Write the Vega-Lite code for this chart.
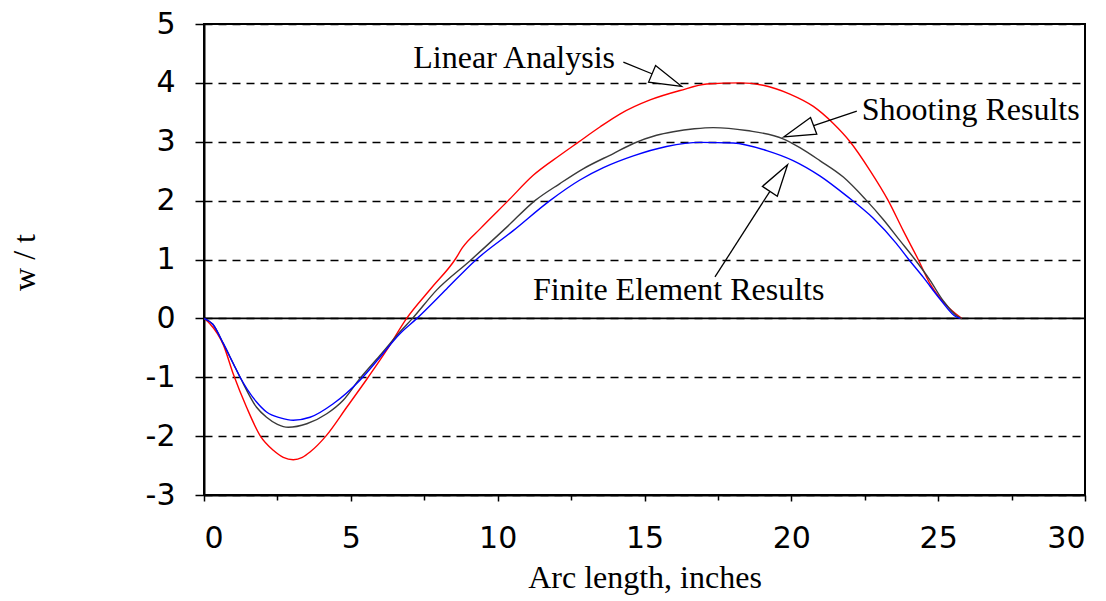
{
  "$schema": "https://vega.github.io/schema/vega-lite/v6.json",
  "width": 881,
  "height": 471,
  "autosize": "none",
  "padding": {"left": 204, "top": 24, "right": 21, "bottom": 106},
  "background": "white",
  "config": {
    "view": {"stroke": "black", "strokeWidth": 2},
    "axis": {
      "labelFont": "DejaVu Sans", "labelFontSize": 30, "labelColor": "black",
      "titleFont": "Liberation Serif", "titleFontSize": 32, "titleFontWeight": "normal", "titleColor": "black",
      "domainColor": "black", "domainWidth": 2, "tickColor": "black", "tickWidth": 1.5
    }
  },
  "datasets": {
    "curves": [
      {"series": "Linear Analysis", "s": 0, "w": 0},
      {"series": "Linear Analysis", "s": 0.2, "w": -0.09},
      {"series": "Linear Analysis", "s": 0.66, "w": -0.45},
      {"series": "Linear Analysis", "s": 1.0, "w": -0.95},
      {"series": "Linear Analysis", "s": 1.45, "w": -1.51},
      {"series": "Linear Analysis", "s": 1.91, "w": -1.99},
      {"series": "Linear Analysis", "s": 2.36, "w": -2.24},
      {"series": "Linear Analysis", "s": 2.7, "w": -2.36},
      {"series": "Linear Analysis", "s": 3.04, "w": -2.4},
      {"series": "Linear Analysis", "s": 3.35, "w": -2.36},
      {"series": "Linear Analysis", "s": 3.61, "w": -2.27},
      {"series": "Linear Analysis", "s": 4.15, "w": -2.0},
      {"series": "Linear Analysis", "s": 4.86, "w": -1.51},
      {"series": "Linear Analysis", "s": 5.59, "w": -1.0},
      {"series": "Linear Analysis", "s": 6.22, "w": -0.54},
      {"series": "Linear Analysis", "s": 6.9, "w": 0},
      {"series": "Linear Analysis", "s": 7.75, "w": 0.52},
      {"series": "Linear Analysis", "s": 8.55, "w": 1.0},
      {"series": "Linear Analysis", "s": 8.8, "w": 1.2},
      {"series": "Linear Analysis", "s": 9.4, "w": 1.52},
      {"series": "Linear Analysis", "s": 10.36, "w": 2.0},
      {"series": "Linear Analysis", "s": 11.21, "w": 2.43},
      {"series": "Linear Analysis", "s": 12.12, "w": 2.77},
      {"series": "Linear Analysis", "s": 12.74, "w": 2.99},
      {"series": "Linear Analysis", "s": 13.48, "w": 3.25},
      {"series": "Linear Analysis", "s": 14.16, "w": 3.47},
      {"series": "Linear Analysis", "s": 15.19, "w": 3.71},
      {"series": "Linear Analysis", "s": 16.21, "w": 3.87},
      {"series": "Linear Analysis", "s": 17.12, "w": 3.98},
      {"series": "Linear Analysis", "s": 18.25, "w": 4.0},
      {"series": "Linear Analysis", "s": 19.04, "w": 3.96},
      {"series": "Linear Analysis", "s": 19.95, "w": 3.81},
      {"series": "Linear Analysis", "s": 20.75, "w": 3.6},
      {"series": "Linear Analysis", "s": 21.43, "w": 3.31},
      {"series": "Linear Analysis", "s": 22.0, "w": 3.0},
      {"series": "Linear Analysis", "s": 22.68, "w": 2.51},
      {"series": "Linear Analysis", "s": 23.3, "w": 2.0},
      {"series": "Linear Analysis", "s": 23.81, "w": 1.49},
      {"series": "Linear Analysis", "s": 24.32, "w": 1.0},
      {"series": "Linear Analysis", "s": 24.72, "w": 0.59},
      {"series": "Linear Analysis", "s": 25.17, "w": 0.28},
      {"series": "Linear Analysis", "s": 25.8, "w": 0},
      {"series": "Shooting Results", "s": 0, "w": 0},
      {"series": "Shooting Results", "s": 0.3, "w": -0.1},
      {"series": "Shooting Results", "s": 0.66, "w": -0.43},
      {"series": "Shooting Results", "s": 1.0, "w": -0.77},
      {"series": "Shooting Results", "s": 1.23, "w": -1.0},
      {"series": "Shooting Results", "s": 1.79, "w": -1.51},
      {"series": "Shooting Results", "s": 2.13, "w": -1.68},
      {"series": "Shooting Results", "s": 2.5, "w": -1.8},
      {"series": "Shooting Results", "s": 2.87, "w": -1.85},
      {"series": "Shooting Results", "s": 3.5, "w": -1.79},
      {"series": "Shooting Results", "s": 4.18, "w": -1.62},
      {"series": "Shooting Results", "s": 4.74, "w": -1.39},
      {"series": "Shooting Results", "s": 5.31, "w": -1.02},
      {"series": "Shooting Results", "s": 5.99, "w": -0.63},
      {"series": "Shooting Results", "s": 6.67, "w": -0.23},
      {"series": "Shooting Results", "s": 7.1, "w": 0},
      {"series": "Shooting Results", "s": 7.92, "w": 0.48},
      {"series": "Shooting Results", "s": 9.06, "w": 0.98},
      {"series": "Shooting Results", "s": 10.31, "w": 1.55},
      {"series": "Shooting Results", "s": 11.27, "w": 2.0},
      {"series": "Shooting Results", "s": 12.12, "w": 2.29},
      {"series": "Shooting Results", "s": 12.91, "w": 2.54},
      {"series": "Shooting Results", "s": 13.94, "w": 2.8},
      {"series": "Shooting Results", "s": 14.62, "w": 2.97},
      {"series": "Shooting Results", "s": 15.41, "w": 3.11},
      {"series": "Shooting Results", "s": 15.98, "w": 3.17},
      {"series": "Shooting Results", "s": 16.7, "w": 3.22},
      {"series": "Shooting Results", "s": 17.34, "w": 3.24},
      {"series": "Shooting Results", "s": 18.48, "w": 3.19},
      {"series": "Shooting Results", "s": 19.72, "w": 3.05},
      {"series": "Shooting Results", "s": 20.29, "w": 2.9},
      {"series": "Shooting Results", "s": 20.97, "w": 2.68},
      {"series": "Shooting Results", "s": 21.77, "w": 2.4},
      {"series": "Shooting Results", "s": 22.51, "w": 2.03},
      {"series": "Shooting Results", "s": 23.13, "w": 1.68},
      {"series": "Shooting Results", "s": 23.7, "w": 1.32},
      {"series": "Shooting Results", "s": 24.21, "w": 1.0},
      {"series": "Shooting Results", "s": 24.72, "w": 0.65},
      {"series": "Shooting Results", "s": 25.17, "w": 0.3},
      {"series": "Shooting Results", "s": 25.7, "w": 0.02},
      {"series": "Shooting Results", "s": 25.8, "w": 0},
      {"series": "Finite Element Results", "s": 0, "w": 0},
      {"series": "Finite Element Results", "s": 0.3, "w": -0.1},
      {"series": "Finite Element Results", "s": 0.66, "w": -0.43},
      {"series": "Finite Element Results", "s": 1.0, "w": -0.77},
      {"series": "Finite Element Results", "s": 1.23, "w": -1.0},
      {"series": "Finite Element Results", "s": 1.79, "w": -1.42},
      {"series": "Finite Element Results", "s": 2.13, "w": -1.59},
      {"series": "Finite Element Results", "s": 2.6, "w": -1.69},
      {"series": "Finite Element Results", "s": 3.04, "w": -1.73},
      {"series": "Finite Element Results", "s": 3.61, "w": -1.68},
      {"series": "Finite Element Results", "s": 4.4, "w": -1.45},
      {"series": "Finite Element Results", "s": 5.31, "w": -1.05},
      {"series": "Finite Element Results", "s": 5.99, "w": -0.66},
      {"series": "Finite Element Results", "s": 6.67, "w": -0.26},
      {"series": "Finite Element Results", "s": 7.25, "w": 0},
      {"series": "Finite Element Results", "s": 8.26, "w": 0.5},
      {"series": "Finite Element Results", "s": 9.23, "w": 0.98},
      {"series": "Finite Element Results", "s": 10.53, "w": 1.49},
      {"series": "Finite Element Results", "s": 11.78, "w": 2.0},
      {"series": "Finite Element Results", "s": 12.8, "w": 2.35},
      {"series": "Finite Element Results", "s": 13.6, "w": 2.56},
      {"series": "Finite Element Results", "s": 14.62, "w": 2.76},
      {"series": "Finite Element Results", "s": 15.75, "w": 2.92},
      {"series": "Finite Element Results", "s": 16.89, "w": 2.99},
      {"series": "Finite Element Results", "s": 18.02, "w": 2.98},
      {"series": "Finite Element Results", "s": 19.16, "w": 2.85},
      {"series": "Finite Element Results", "s": 20.06, "w": 2.68},
      {"series": "Finite Element Results", "s": 20.97, "w": 2.42},
      {"series": "Finite Element Results", "s": 21.88, "w": 2.08},
      {"series": "Finite Element Results", "s": 22.79, "w": 1.7},
      {"series": "Finite Element Results", "s": 23.58, "w": 1.27},
      {"series": "Finite Element Results", "s": 24.0, "w": 1.0},
      {"series": "Finite Element Results", "s": 24.49, "w": 0.7},
      {"series": "Finite Element Results", "s": 25.06, "w": 0.33},
      {"series": "Finite Element Results", "s": 25.63, "w": 0.02},
      {"series": "Finite Element Results", "s": 25.75, "w": 0}
    ],
    "labels": [
      {"label": "Linear Analysis", "s": 7.127, "w": 4.245},
      {"label": "Shooting Results", "s": 22.4, "w": 3.363},
      {"label": "Finite Element Results", "s": 11.2, "w": 0.309}
    ],
    "leaders": [
      {"label": "Linear Analysis", "s": 14.28, "w": 4.352, "s2": 15.25, "w2": 4.155},
      {"label": "Shooting Results", "s": 22.23, "w": 3.52, "s2": 20.76, "w2": 3.273},
      {"label": "Finite Element Results", "s": 17.4, "w": 0.704, "s2": 19.27, "w2": 2.158}
    ]
  },
  "layer": [
    {
      "data": {"values": [{"w": 0}]},
      "mark": {"type": "rule", "color": "black", "strokeWidth": 1.6},
      "encoding": {
        "y": {
          "field": "w", "type": "quantitative",
          "scale": {"domain": [-3, 5], "nice": false, "zero": false},
          "axis": {
            "orient": "left",
            "values": [-3, -2.5, -2, -1.5, -1, -0.5, 0, 0.5, 1, 1.5, 2, 2.5, 3, 3.5, 4, 4.5, 5],
            "labelExpr": "datum.value % 1 ? '' : '' + datum.value",
            "grid": true, "gridColor": "black", "gridDash": [8, 6], "gridWidth": 1.3,
            "gridOpacity": {"condition": {"test": "datum.value % 1", "value": 0}, "value": 1},
            "tickSize": {"condition": {"test": "datum.value % 1", "value": 6}, "value": 9},
            "labelPadding": 20,
            "title": "w / t",
            "titleAngle": -90, "titleAlign": "center", "titleBaseline": "alphabetic",
            "titleX": -170, "titleY": 238
          }
        }
      }
    },
    {
      "data": {"name": "curves"},
      "mark": {"type": "line", "strokeWidth": 1.4, "clip": true, "interpolate": "monotone"},
      "encoding": {
        "x": {
          "field": "s", "type": "quantitative",
          "scale": {"domain": [0, 30], "nice": false, "zero": false},
          "axis": {
            "orient": "bottom",
            "values": [0, 2.5, 5, 7.5, 10, 12.5, 15, 17.5, 20, 22.5, 25, 27.5, 30],
            "labelExpr": "datum.value % 1 ? '' : '' + datum.value",
            "grid": false,
            "tickSize": {"condition": {"test": "datum.value % 1", "value": 5}, "value": 6},
            "labelPadding": 22,
            "labelBaseline": "top",
            "title": "Arc length, inches",
            "titleBaseline": "alphabetic", "titleY": 92
          }
        },
        "y": {"field": "w", "type": "quantitative"},
        "color": {
          "field": "series", "type": "nominal",
          "scale": {"domain": ["Linear Analysis", "Shooting Results", "Finite Element Results"], "range": ["#ff0000", "#3a3a3a", "#0000ff"]},
          "legend": null
        },
        "order": {"field": "s", "type": "quantitative"}
      }
    },
    {
      "data": {"name": "leaders"},
      "mark": {"type": "rule", "color": "black", "strokeWidth": 1.3},
      "encoding": {
        "x": {"field": "s", "type": "quantitative"},
        "y": {"field": "w", "type": "quantitative"},
        "x2": {"field": "s2"},
        "y2": {"field": "w2"}
      }
    },
    {
      "data": {"values": [{"s": 15.76, "w": 4.047}]},
      "mark": {"type": "point", "shape": "M0,-1L0.56,1L-0.56,1Z", "size": 1024, "angle": 113, "filled": true, "fill": "white", "stroke": "black", "strokeWidth": 1.3, "opacity": 1},
      "encoding": {"x": {"field": "s", "type": "quantitative"}, "y": {"field": "w", "type": "quantitative"}}
    },
    {
      "data": {"values": [{"s": 20.25, "w": 3.176}]},
      "mark": {"type": "point", "shape": "M0,-1L0.56,1L-0.56,1Z", "size": 1024, "angle": 249.6, "filled": true, "fill": "white", "stroke": "black", "strokeWidth": 1.3, "opacity": 1},
      "encoding": {"x": {"field": "s", "type": "quantitative"}, "y": {"field": "w", "type": "quantitative"}}
    },
    {
      "data": {"values": [{"s": 19.57, "w": 2.384}]},
      "mark": {"type": "point", "shape": "M0,-1L0.56,1L-0.56,1Z", "size": 1024, "angle": 33.6, "filled": true, "fill": "white", "stroke": "black", "strokeWidth": 1.3, "opacity": 1},
      "encoding": {"x": {"field": "s", "type": "quantitative"}, "y": {"field": "w", "type": "quantitative"}}
    },
    {
      "data": {"name": "labels"},
      "mark": {"type": "text", "align": "left", "baseline": "alphabetic", "font": "Liberation Serif", "fontSize": 32, "color": "black"},
      "encoding": {
        "x": {"field": "s", "type": "quantitative"},
        "y": {"field": "w", "type": "quantitative"},
        "text": {"field": "label"}
      }
    }
  ]
}
